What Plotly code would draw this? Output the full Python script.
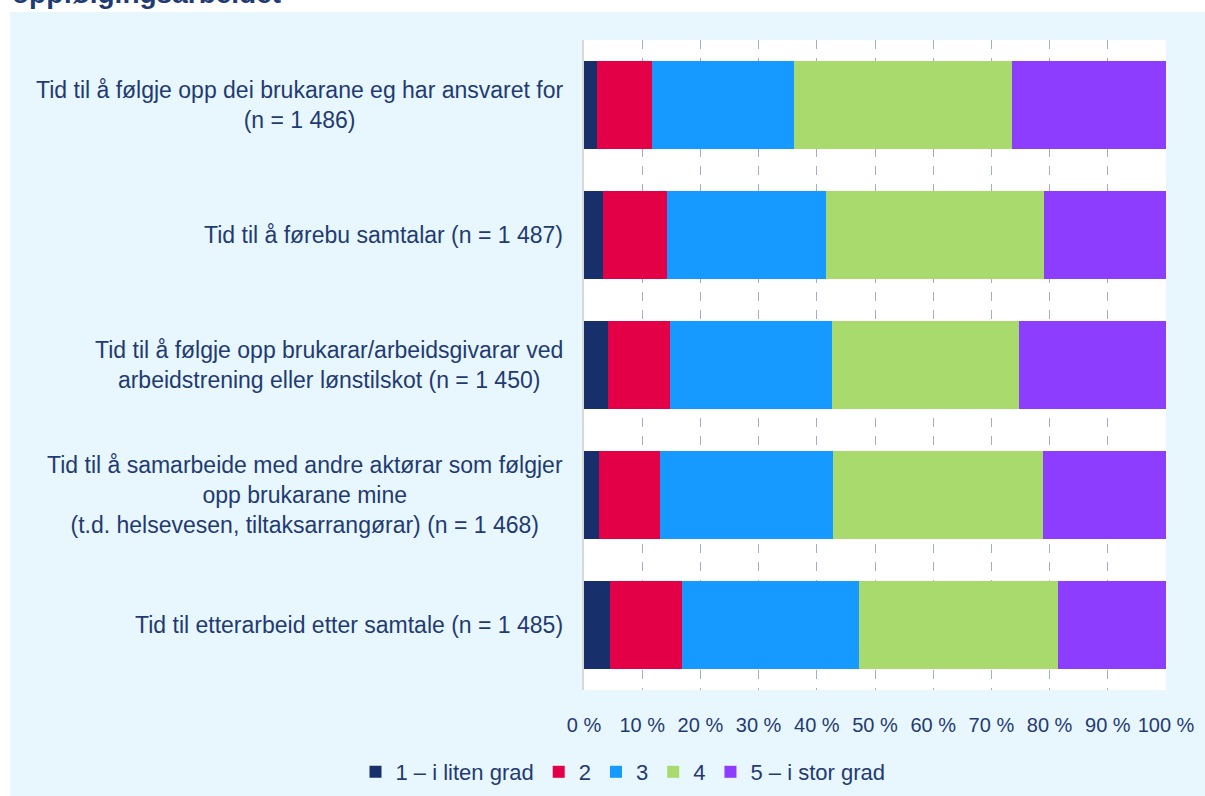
import plotly.graph_objects as go

categories = [
    "Tid til å følgje opp dei brukarane eg har ansvaret for<br>(n = 1 486)",
    "Tid til å førebu samtalar (n = 1 487)",
    "Tid til å følgje opp brukarar/arbeidsgivarar ved<br>arbeidstrening eller lønstilskot (n = 1 450)",
    "Tid til å samarbeide med andre aktørar som følgjer<br>opp brukarane mine<br>(t.d. helsevesen, tiltaksarrangørar) (n = 1 468)",
    "Tid til etterarbeid etter samtale (n = 1 485)",
]
series_names = ["1 – i liten grad", "2", "3", "4", "5 – i stor grad"]
s1 = [2.2, 3.2, 4.2, 2.6, 4.5]
s2 = [9.4, 11.0, 10.6, 10.4, 12.3]
s3 = [24.4, 27.3, 27.8, 29.7, 30.4]
s4 = [37.6, 37.5, 32.2, 36.1, 34.2]
s5 = [26.4, 21.0, 25.2, 21.2, 18.6]
series_values = [s1, s2, s3, s4, s5]
colors = ["#17306c", "#e30047", "#179aff", "#a9da6d", "#8c3dfd"]
tick_vals = [0, 10, 20, 30, 40, 50, 60, 70, 80, 90, 100]
tick_text = ["0 %", "10 %", "20 %", "30 %", "40 %", "50 %", "60 %", "70 %", "80 %", "90 %", "100 %"]
title_text = "oppfølgingsarbeidet"

TXT = "#1f3b73"
FONT = "Liberation Sans, Arial, sans-serif"

fig = go.Figure()
for name, vals, col in zip(series_names, series_values, colors):
    fig.add_trace(go.Bar(
        y=categories, x=vals, name=name, orientation="h",
        marker=dict(color=col, line=dict(width=0)),
    ))

W, H = 1205, 796
L, R, T, B = 584, 39, 40, 106
pw, ph = W - L - R, H - T - B

def px_x(p):
    return (p - L) / pw

def px_y(p):
    return (H - B - p) / ph

shapes = [
    dict(type="rect", xref="paper", yref="paper", x0=px_x(0), x1=px_x(W), y0=px_y(0), y1=px_y(12),
         fillcolor="white", line=dict(width=0), layer="below"),
    dict(type="rect", xref="paper", yref="paper", x0=px_x(0), x1=px_x(10), y0=px_y(0), y1=px_y(H),
         fillcolor="white", line=dict(width=0), layer="below"),
]

annotations = []
for c in categories:
    annotations.append(dict(
        text=c, xref="paper", yref="y", x=px_x(565), y=c, xanchor="right", yanchor="middle",
        align="center", showarrow=False, font=dict(family=FONT, size=23, color=TXT),
    ))
annotations.append(dict(
    text="<b>" + title_text + "</b>", xref="paper", yref="paper", x=px_x(10), y=px_y(11),
    xanchor="left", yanchor="bottom", showarrow=False,
    font=dict(family=FONT, size=28, color=TXT),
))

fig.update_layout(
    barmode="stack",
    bargap=0.33,
    width=W, height=H,
    margin=dict(l=L, r=R, t=T, b=B, pad=0, autoexpand=False),
    paper_bgcolor="#e8f6fd",
    plot_bgcolor="white",
    shapes=shapes,
    annotations=annotations,
    showlegend=True,
    legend=dict(
        orientation="h", x=px_x(623), xanchor="center", y=px_y(772), yanchor="middle",
        font=dict(family=FONT, size=22, color=TXT), bgcolor="rgba(0,0,0,0)",
        itemwidth=30, traceorder="normal", tracegroupgap=0,
    ),
    font=dict(family=FONT, size=20, color=TXT),
    xaxis=dict(
        range=[0, 100], tickvals=tick_vals, ticktext=tick_text,
        showgrid=True, gridcolor="#a3adc6", griddash="dash", gridwidth=1,
        zeroline=False, showline=False, ticks="", ticklabelstandoff=21,
        tickfont=dict(family=FONT, size=20, color=TXT), fixedrange=True,
    ),
    yaxis=dict(
        autorange="reversed", showticklabels=False, showgrid=False,
        showline=True, linecolor="#d9d9d9", linewidth=1.5, zeroline=False,
    ),
)

fig.write_html(
    "out.html", config={"displayModeBar": False},
    post_script=("document.body.style.margin='0';"
                 "document.body.style.overflow='hidden';"
                 "document.documentElement.style.overflow='hidden';"),
)
